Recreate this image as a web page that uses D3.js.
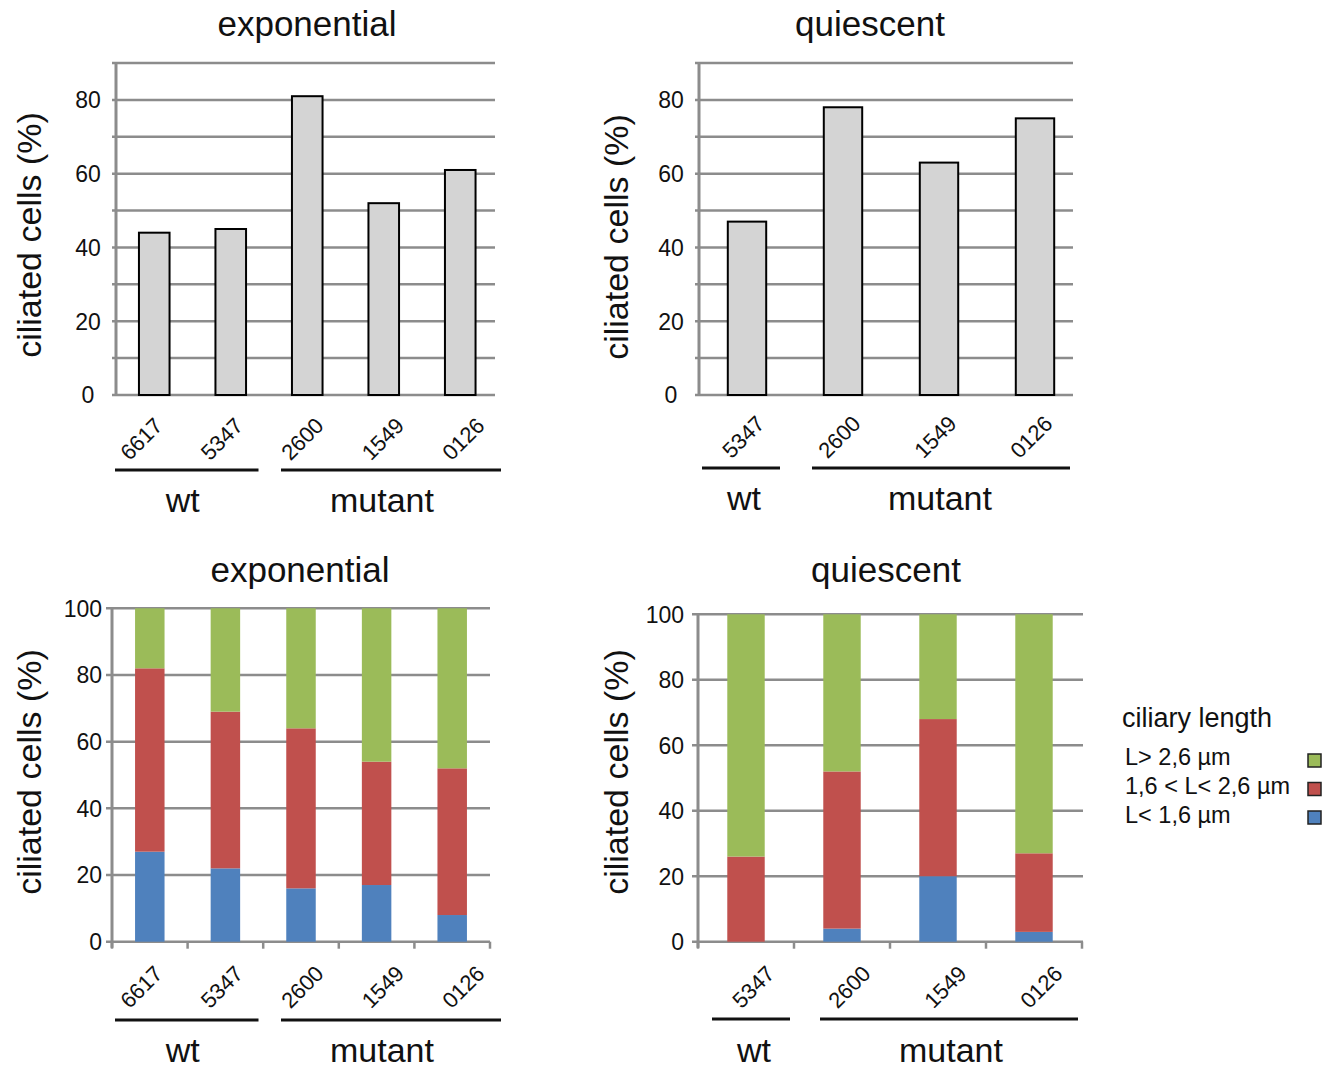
<!DOCTYPE html>
<html>
<head>
<meta charset="utf-8">
<script src="https://cdn.jsdelivr.net/npm/d3@7"></script>
<style>
  body { margin: 0; background: #fff; }
  text { font-family: "Liberation Sans", Arial, sans-serif; fill: #111; }
</style>
</head>
<body>
<script>
const w = 1338;
const h = 1071;

// strains
const strainsExp = ["6617", "5347", "2600", "1549", "0126"];
const strainsQui = ["5347", "2600", "1549", "0126"];
const groupNames = ["wt", "mutant"];
const groupSizeExp = [2, 3];
const groupSizeQui = [1, 3];

// ciliated cells (%)
const ciliatedExp = [44, 45, 81, 52, 61];
const ciliatedQui = [47, 78, 63, 75];

// ciliary length classes (% of cells), bottom to top
const shortExp = [27, 22, 16, 17, 8];
const midExp = [55, 47, 48, 37, 44];
const longExp = [18, 31, 36, 46, 48];
const shortQui = [0, 4, 20, 3];
const midQui = [26, 48, 48, 24];
const longQui = [74, 48, 32, 73];

const lengthKeys = ["short", "mid", "long"];
const legendLabels = ["L> 2,6 µm", "1,6 < L< 2,6 µm", "L< 1,6 µm"];
const colors = { short: "#4f81bd", mid: "#c0504d", long: "#9bbb59" };

const gridColor = "#8c8c8c";

const svg = d3.select("body").append("svg").attr("width", w).attr("height", h);

// y axis title, title, group brackets: shared
function decorate(p, x, lab) {
  svg.append("text")
    .attr("x", p.title[0]).attr("y", p.title[1])
    .attr("text-anchor", "middle")
    .attr("font-size", "35px")
    .text(p.name);

  svg.append("text")
    .attr("transform", `translate(${p.yTitle[0]},${p.yTitle[1]}) rotate(-90)`)
    .attr("text-anchor", "middle")
    .attr("font-size", "34px")
    .text("ciliated cells (%)");

  // rotated strain labels
  svg.selectAll(null)
    .data(p.cats)
    .enter()
    .append("text")
    .attr("transform", (d) => `translate(${lab(d)},${p.labY}) rotate(-45)`)
    .attr("text-anchor", "end")
    .attr("font-size", "22px")
    .text((d) => d);

  // wt / mutant brackets
  let start = 0;
  p.groups.forEach((n, i) => {
    const first = p.cats[start];
    const last = p.cats[start + n - 1];
    const x1 = lab(first) + p.pad[i][0];
    const x2 = lab(last) + p.pad[i][1];
    svg.append("line")
      .attr("x1", x1).attr("x2", x2)
      .attr("y1", p.bracketY).attr("y2", p.bracketY)
      .attr("stroke", "#111").attr("stroke-width", 3);
    svg.append("text")
      .attr("x", (x1 + x2) / 2 + p.groupDx[i]).attr("y", p.groupY)
      .attr("text-anchor", "middle")
      .attr("font-size", "34px")
      .text(groupNames[i]);
    start += n;
  });
}

function gridlines(p, y, ticks) {
  svg.selectAll(null)
    .data(ticks)
    .enter()
    .append("line")
    .attr("x1", p.grid[0]).attr("x2", p.grid[1])
    .attr("y1", (d) => y(d)).attr("y2", (d) => y(d))
    .attr("stroke", gridColor).attr("stroke-width", 2.5);
}

// top: single grey bars
function barPanel(p) {
  const x = d3.scaleBand().domain(p.cats).range(p.xr).paddingInner(0.6).paddingOuter(0.3);
  const y = d3.scaleLinear().domain([0, 90]).range(p.yr);
  const lab = d3.scalePoint().domain(p.cats).range(p.labR);

  gridlines(p, y, d3.range(0, 91, 10));

  svg.append("line")
    .attr("x1", p.xr[0]).attr("x2", p.xr[0])
    .attr("y1", y(90)).attr("y2", y(0))
    .attr("stroke", gridColor).attr("stroke-width", 3);

  svg.selectAll(null)
    .data(d3.range(0, 81, 20))
    .enter()
    .append("text")
    .attr("x", p.xr[0] - 28)
    .attr("y", (d) => y(d))
    .attr("dy", "0.36em")
    .attr("text-anchor", "middle")
    .attr("font-size", "23px")
    .text((d) => d);

  svg.selectAll(null)
    .data(p.values)
    .enter()
    .append("rect")
    .attr("x", (d, i) => x(p.cats[i]))
    .attr("y", (d) => y(d))
    .attr("width", x.bandwidth())
    .attr("height", (d) => y(0) - y(d))
    .attr("fill", "#d4d4d4")
    .attr("stroke", "#000")
    .attr("stroke-width", 2);

  decorate(p, x, lab);
}

// bottom: stacked length classes
function stackPanel(p) {
  const x = d3.scaleBand().domain(p.cats).range(p.xr).paddingInner(0.61).paddingOuter(0.305);
  const y = d3.scaleLinear().domain([0, 100]).range(p.yr);
  const lab = d3.scalePoint().domain(p.cats).range(p.labR);

  gridlines(p, y, d3.range(0, 101, 20));

  svg.append("line")
    .attr("x1", p.xr[0]).attr("x2", p.xr[0])
    .attr("y1", y(100)).attr("y2", y(0) + 6)
    .attr("stroke", gridColor).attr("stroke-width", 3);

  // category boundary ticks
  const step = x.step();
  svg.selectAll(null)
    .data(d3.range(p.cats.length + 1))
    .enter()
    .append("line")
    .attr("x1", (i) => p.xr[0] + i * step).attr("x2", (i) => p.xr[0] + i * step)
    .attr("y1", y(0)).attr("y2", y(0) + 7)
    .attr("stroke", gridColor).attr("stroke-width", 2.5);

  svg.selectAll(null)
    .data(d3.range(0, 101, 20))
    .enter()
    .append("text")
    .attr("x", p.xr[0] - p.tickGap)
    .attr("y", (d) => y(d))
    .attr("dy", "0.36em")
    .attr("text-anchor", "end")
    .attr("font-size", "23px")
    .text((d) => d);

  const table = p.cats.map((c, i) => ({
    cat: c, short: p.short[i], mid: p.mid[i], long: p.long[i]
  }));
  const series = d3.stack().keys(lengthKeys)(table);

  svg.append("g")
    .selectAll("g")
    .data(series)
    .enter()
    .append("g")
    .attr("fill", (s) => colors[s.key])
    .selectAll("rect")
    .data((s) => s)
    .enter()
    .append("rect")
    .attr("x", (d) => x(d.data.cat))
    .attr("y", (d) => y(d[1]))
    .attr("width", x.bandwidth())
    .attr("height", (d) => y(d[0]) - y(d[1]));

  decorate(p, x, lab);
}

barPanel({
  name: "exponential", cats: strainsExp, values: ciliatedExp, groups: groupSizeExp,
  xr: [116, 498.5], yr: [395, 63], grid: [112, 495],
  title: [307, 36], yTitle: [41, 235],
  labR: [164, 486], labY: 427,
  bracketY: 470, pad: [[-49, 14], [-44, 15]], groupY: 512, groupDx: [-4, -9]
});

barPanel({
  name: "quiescent", cats: strainsQui, values: ciliatedQui, groups: groupSizeQui,
  xr: [699, 1083], yr: [395, 63], grid: [695, 1073],
  title: [870, 36], yTitle: [628, 237],
  labR: [766, 1054], labY: 425,
  bracketY: 468, pad: [[-64, 14], [-50, 16]], groupY: 510, groupDx: [3, -1]
});

stackPanel({
  name: "exponential", cats: strainsExp, groups: groupSizeExp,
  short: shortExp, mid: midExp, long: longExp,
  xr: [112, 490], yr: [941.7, 608.3], grid: [106, 490], tickGap: 10,
  title: [300, 582], yTitle: [41, 772],
  labR: [164, 486], labY: 975,
  bracketY: 1020, pad: [[-49, 14], [-44, 15]], groupY: 1062, groupDx: [-4, -9]
});

stackPanel({
  name: "quiescent", cats: strainsQui, groups: groupSizeQui,
  short: shortQui, mid: midQui, long: longQui,
  xr: [698, 1082], yr: [941.7, 614.3], grid: [692, 1083], tickGap: 14,
  title: [886, 582], yTitle: [628, 772],
  labR: [776, 1064], labY: 975,
  bracketY: 1019, pad: [[-64, 14], [-52, 14]], groupY: 1062, groupDx: [3, 2]
});

// legend
const legend = svg.append("g");
legend.append("text")
  .attr("x", 1122).attr("y", 727)
  .attr("font-size", "27px")
  .text("ciliary length");

const legendKeys = ["long", "mid", "short"];
legend.selectAll(null)
  .data(legendKeys)
  .enter()
  .append("text")
  .attr("x", 1125)
  .attr("y", (d, i) => 765 + i * 29)
  .attr("font-size", "23.5px")
  .text((d, i) => legendLabels[i]);

legend.selectAll(null)
  .data(legendKeys)
  .enter()
  .append("rect")
  .attr("x", 1308)
  .attr("y", (d, i) => 754 + i * 28.5)
  .attr("width", 13).attr("height", 13)
  .attr("fill", (d) => colors[d])
  .attr("stroke", "#222").attr("stroke-width", 1.5);
</script>
</body>
</html>
